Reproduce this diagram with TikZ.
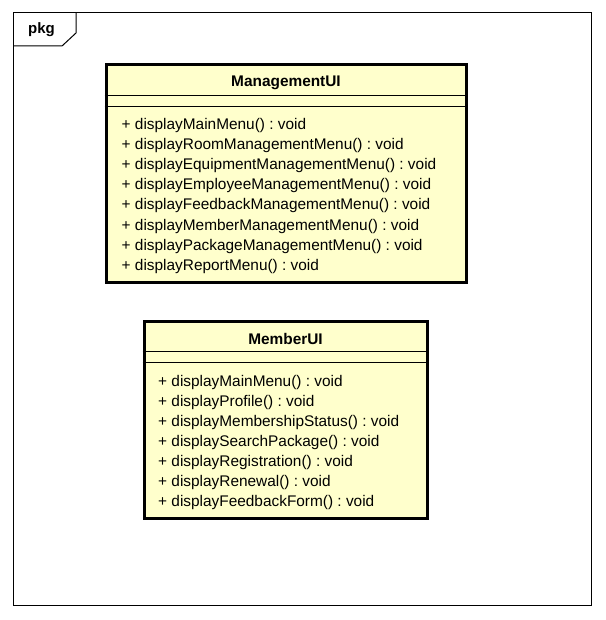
\documentclass[tikz,border=0pt]{standalone}
\usepackage{fontspec}
\setmainfont{Liberation Sans}
\definecolor{umlfill}{RGB}{255,255,204}
\frenchspacing
\begin{document}
\begin{tikzpicture}[x=1pt,y=-1pt,
  classbox/.style={draw=black,line width=3pt,fill=umlfill,inner sep=0pt},
  classname/.style={anchor=base,inner sep=0pt,font=\fontsize{15.4}{18}\selectfont\bfseries},
  method/.style={anchor=base west,inner sep=0pt,font=\fontsize{15.4}{18}\selectfont},
  divider/.style={line width=1pt}]
  \useasboundingbox (0,0) rectangle (605,620);
  % package frame
  \draw[line width=1pt] (13,13) rectangle (591,605);
  \draw[line width=1pt] (13,46) -- (62,46) -- (76,33) -- (76,13);
  \node[anchor=base west,inner sep=0pt,font=\fontsize{15}{18}\selectfont\bfseries] (pkg) at (28,34) {pkg};

  % ManagementUI
  \node[classbox,minimum width=360,minimum height=217] (mgmt) at (286,173.5) {};
  \draw[divider] (mgmt.west |- 0,96) -- (mgmt.east |- 0,96);
  \draw[divider] (mgmt.west |- 0,107) -- (mgmt.east |- 0,107);
  \node[classname] (mgmtname) at (286,87) {ManagementUI};
  \node[method] (m1) at (121.5,130) {+ displayMainMenu() : void};
  \node[method] (m2) at (121.5,150) {+ displayRoomManagementMenu() : void};
  \node[method] (m3) at (121.5,170) {+ displayEquipmentManagementMenu() : void};
  \node[method] (m4) at (121.5,190) {+ displayEmployeeManagementMenu() : void};
  \node[method] (m5) at (121.5,210) {+ displayFeedbackManagementMenu() : void};
  \node[method] (m6) at (121.5,230) {+ displayMemberManagementMenu() : void};
  \node[method] (m7) at (121.5,250) {+ displayPackageManagementMenu() : void};
  \node[method] (m8) at (121.5,270) {+ displayReportMenu() : void};

  % MemberUI
  \node[classbox,minimum width=283,minimum height=197] (member) at (285.5,419.5) {};
  \draw[divider] (member.west |- 0,351) -- (member.east |- 0,351);
  \draw[divider] (member.west |- 0,362) -- (member.east |- 0,362);
  \node[classname] (membername) at (285.5,344) {MemberUI};
  \node[method] (u1) at (158,386) {+ displayMainMenu() : void};
  \node[method] (u2) at (158,406) {+ displayProfile() : void};
  \node[method] (u3) at (158,426) {+ displayMembershipStatus() : void};
  \node[method] (u4) at (158,446) {+ displaySearchPackage() : void};
  \node[method] (u5) at (158,466) {+ displayRegistration() : void};
  \node[method] (u6) at (158,486) {+ displayRenewal() : void};
  \node[method] (u7) at (158,506) {+ displayFeedbackForm() : void};
\end{tikzpicture}
\end{document}
